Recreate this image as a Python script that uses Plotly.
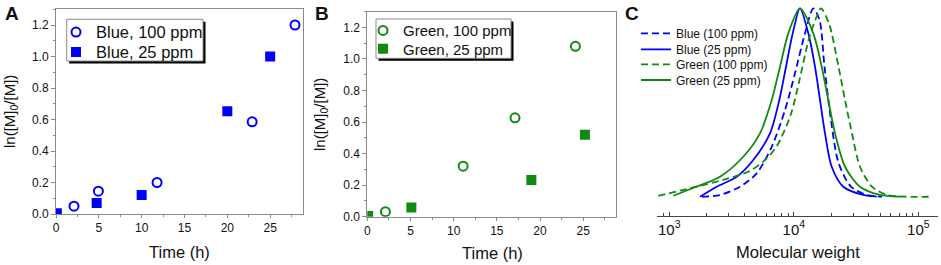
import plotly.graph_objects as go

FONT = "Arial, Liberation Sans, sans-serif"
BLUE = "#0000ff"
GREEN = "#118a11"
FRAME = "#8a8a8a"

# ---- Panel A: kinetics, blue light ----
blue100_t = [2.1, 4.95, 11.8, 22.9, 27.9]
blue100_y = [0.05, 0.145, 0.20, 0.585, 1.20]
blue25_t = [0.1, 4.75, 10.0, 20.0, 25.0]
blue25_y = [0.005, 0.07, 0.12, 0.652, 1.0]

# ---- Panel B: kinetics, green light ----
green100_t = [2.1, 11.1, 17.1, 24.1]
green100_y = [0.032, 0.32, 0.627, 1.08]
green25_t = [0.1, 5.1, 19.0, 25.2]
green25_y = [0.004, 0.059, 0.232, 0.52]

time_ticks = [0, 5, 10, 15, 20, 25]
ln_ticks = [0.0, 0.2, 0.4, 0.6, 0.8, 1.0, 1.2]
ln_labels = ["0.0", "0.2", "0.4", "0.6", "0.8", "1.0", "1.2"]

# ---- Panel C: GPC traces (normalised) ----
gpc_blue100_mw = [1831, 2554, 3698, 5035, 6646, 8499, 10223, 12303, 14340,
                  16090, 17645, 19710, 22860, 28810, 38730, 51100]
gpc_blue100_i = [0.0, 0.009, 0.053, 0.124, 0.265, 0.460, 0.655, 0.867, 1.0,
                 0.938, 0.690, 0.425, 0.180, 0.053, 0.009, 0.0]

gpc_blue25_mw = [1765, 2403, 3478, 4728, 6440, 7648, 8657, 9800, 11215,
                 13080, 14800, 16235, 17810, 20155, 24980, 36150, 46340]
gpc_blue25_i = [0.0, 0.053, 0.106, 0.195, 0.336, 0.513, 0.690, 0.867, 1.0,
                0.867, 0.690, 0.513, 0.336, 0.159, 0.053, 0.009, 0.0]

gpc_green100_mw = [816, 1467, 2700, 4448, 5870, 7331, 9495, 11112, 13250, 15275,
                   16540, 19170, 22860, 25780, 28810, 34020, 42470, 56050, 78190, 130100]
gpc_green100_i = [0.004, 0.045, 0.089, 0.137, 0.195, 0.27, 0.44, 0.62, 0.84, 0.956,
                  1.0, 0.92, 0.69, 0.513, 0.36, 0.159, 0.053, 0.009, 0.0, 0.0]

gpc_green25_mw = [1077, 1609, 2554, 3929, 5351, 6646, 7749, 9031, 11215,
                  14340, 16755, 18925, 21420, 25780, 34020, 49250, 71290]
gpc_green25_i = [0.005, 0.05, 0.106, 0.212, 0.336, 0.513, 0.690, 0.867, 1.0,
                 0.867, 0.690, 0.513, 0.336, 0.159, 0.053, 0.009, 0.0]

W, H = 941, 265


def px(x):
    return x / W


def py(y):
    return 1 - y / H


fig = go.Figure()

# Panel A traces
fig.add_trace(go.Scatter(x=blue100_t, y=blue100_y, mode="markers", name="Blue, 100 ppm",
                         marker=dict(symbol="circle-open", size=9, color=BLUE, line=dict(width=2, color=BLUE)),
                         xaxis="x", yaxis="y", legend="legend"))
fig.add_trace(go.Scatter(x=blue25_t, y=blue25_y, mode="markers", name="Blue, 25 ppm",
                         marker=dict(symbol="square", size=10, color=BLUE, line=dict(width=0)),
                         xaxis="x", yaxis="y", legend="legend2"))
# Panel B traces
fig.add_trace(go.Scatter(x=green100_t, y=green100_y, mode="markers", name="Green, 100 ppm",
                         marker=dict(symbol="circle-open", size=9, color=GREEN, line=dict(width=2, color=GREEN)),
                         xaxis="x2", yaxis="y2", legend="legend3"))
fig.add_trace(go.Scatter(x=green25_t, y=green25_y, mode="markers", name="Green, 25 ppm",
                         marker=dict(symbol="square", size=10, color=GREEN, line=dict(width=0)),
                         xaxis="x2", yaxis="y2", legend="legend4"))
# Panel C traces
DASH = "7px,4px"
fig.add_trace(go.Scatter(x=gpc_blue100_mw, y=gpc_blue100_i, mode="lines", name="Blue (100 ppm)",
                         line=dict(color=BLUE, width=1.8, dash=DASH, shape="spline", smoothing=0.8),
                         xaxis="x3", yaxis="y3", legend="legend5"))
fig.add_trace(go.Scatter(x=gpc_blue25_mw, y=gpc_blue25_i, mode="lines", name="Blue (25 ppm)",
                         line=dict(color=BLUE, width=1.8, shape="spline", smoothing=0.8),
                         xaxis="x3", yaxis="y3", legend="legend6"))
fig.add_trace(go.Scatter(x=gpc_green100_mw, y=gpc_green100_i, mode="lines", name="Green (100 ppm)",
                         line=dict(color=GREEN, width=1.8, dash=DASH, shape="spline", smoothing=0.8),
                         xaxis="x3", yaxis="y3", legend="legend7"))
fig.add_trace(go.Scatter(x=gpc_green25_mw, y=gpc_green25_i, mode="lines", name="Green (25 ppm)",
                         line=dict(color=GREEN, width=1.8, shape="spline", smoothing=0.8),
                         xaxis="x3", yaxis="y3", legend="legend8"))

tickfont = dict(family=FONT, size=12, color="#111")


def time_axis(domain):
    return dict(domain=domain, range=[0, 28.8], tickvals=time_ticks, ticks="outside", ticklen=3,
                tickcolor=FRAME, showline=True, linecolor=FRAME, linewidth=1, mirror=True,
                showgrid=False, zeroline=False, tickfont=tickfont, automargin=False,
                minor=dict(ticks="outside", ticklen=2, dtick=2.5, tick0=0, tickcolor=FRAME))


def ln_axis(domain, anchor):
    return dict(domain=domain, anchor=anchor, range=[0, 1.3], tickvals=ln_ticks, ticktext=ln_labels,
                ticks="outside", ticklen=4, tickcolor=FRAME, showline=True, linecolor=FRAME,
                linewidth=1, mirror=True, showgrid=False, zeroline=False, tickfont=tickfont,
                automargin=False,
                minor=dict(ticks="outside", ticklen=2, dtick=0.1, tick0=0, tickcolor=FRAME))


xa = time_axis([px(56), px(302.7)])
xa["anchor"] = "y"
xb = time_axis([px(367.3), px(616)])
xb["anchor"] = "y2"

legend_common = dict(xanchor="left", yanchor="middle", bgcolor="rgba(0,0,0,0)", borderwidth=0)
fontA = dict(family=FONT, size=16.5, color="#111")
fontB = dict(family=FONT, size=15, color="#111")
fontC = dict(family=FONT, size=12, color="#111")

fig.update_layout(
    width=W, height=H, autosize=False,
    margin=dict(l=0, r=0, t=0, b=0, pad=0, autoexpand=False),
    paper_bgcolor="white", plot_bgcolor="white",
    font=dict(family=FONT, color="#111"),
    showlegend=True,
    xaxis=xa,
    yaxis=ln_axis([py(214), py(9.25)], "x"),
    xaxis2=xb,
    yaxis2=ln_axis([py(216.7), py(11.6)], "x2"),
    xaxis3=dict(domain=[px(656.7), px(938)], anchor="y3", type="log", range=[2.899, 5.158],
                dtick=1, exponentformat="power", showline=True, linecolor="#444", linewidth=1.2,
                ticks="inside", ticklen=4, tickcolor="#444", showgrid=False, zeroline=False,
                tickfont=tickfont, automargin=False,
                minor=dict(ticks="inside", ticklen=2.5, dtick="D1", tickcolor="#444", showgrid=False)),
    yaxis3=dict(domain=[py(216), py(5)], anchor="x3", range=[-0.1025, 1.0175], visible=False,
                automargin=False),
    legend=dict(x=px(56), y=py(32.3), font=fontA, **legend_common),
    legend2=dict(x=px(56), y=py(52.3), font=fontA, **legend_common),
    legend3=dict(x=px(363), y=py(30.7), font=fontB, **legend_common),
    legend4=dict(x=px(363), y=py(49), font=fontB, **legend_common),
    legend5=dict(x=px(636), y=py(33.3), font=fontC, **legend_common),
    legend6=dict(x=px(636), y=py(49.3), font=fontC, **legend_common),
    legend7=dict(x=px(636), y=py(64.3), font=fontC, **legend_common),
    legend8=dict(x=px(636), y=py(80), font=fontC, **legend_common),
)

# legend frames with drop shadow (panels A and B)
shapes = []
for (x0, y0, x1, y1) in [(66.7, 19.3, 203, 61), (376, 19, 511, 58.3)]:
    shapes.append(dict(type="rect", xref="paper", yref="paper", layer="above",
                       x0=px(x0 + 2.5), x1=px(x1 + 2.5), y0=py(y1 + 2.5), y1=py(y0 + 2.5),
                       fillcolor="black", line=dict(width=0)))
    shapes.append(dict(type="rect", xref="paper", yref="paper", layer="above",
                       x0=px(x0), x1=px(x1), y0=py(y1), y1=py(y0),
                       fillcolor="white", line=dict(color=FRAME, width=1)))
fig.update_layout(shapes=shapes)

ann = []
for lab, x in [("A", 3), ("B", 313), ("C", 623)]:
    ann.append(dict(text="<b>%s</b>" % lab, x=px(x), y=py(1), xref="paper", yref="paper",
                    xanchor="left", yanchor="top", showarrow=False,
                    font=dict(family=FONT, size=19, color="#111")))
title_font = dict(family=FONT, size=16.5, color="#111")
for txt, x, y in [("Time (h)", 179.5, 251.5), ("Time (h)", 492.5, 253), ("Molecular weight", 798, 252)]:
    ann.append(dict(text=txt, x=px(x), y=py(y), xref="paper", yref="paper", xanchor="center",
                    yanchor="middle", showarrow=False, font=title_font))
for x, y in [(10, 112), (320, 115)]:
    ann.append(dict(text="ln([M]<sub>0</sub>/[M])", x=px(x), y=py(y), xref="paper", yref="paper",
                    xanchor="center", yanchor="middle", textangle=-90, showarrow=False,
                    font=dict(family=FONT, size=15, color="#111")))
fig.update_layout(annotations=ann)

fig.write_html("out.html",
               config={"displayModeBar": False},
               post_script="document.body.style.margin='0';document.body.style.padding='0';"
                           "document.body.style.overflow='hidden';")
